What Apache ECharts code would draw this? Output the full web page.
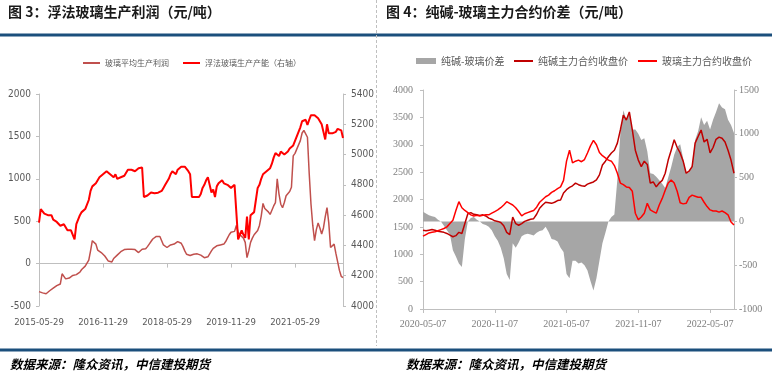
<!DOCTYPE html>
<html><head><meta charset="utf-8">
<script src="https://cdn.jsdelivr.net/npm/echarts@6/dist/echarts.min.js"></script>
<style>html,body{margin:0;padding:0;background:#fff}#c{width:772px;height:378px}</style>
</head><body><div id="c"></div>
<script>
// ---------- Fig.3 data (semi-monthly, from 2015-05-29) ----------
const profitTicks = ['2015-05-29','2016-11-29','2018-05-29','2019-11-29','2021-05-29'];
const glassProfit = [
-330,-340,-345,-350,-355,-340,-320,-310,-290,-270,
-260,-250,-240,-120,-150,-180,-190,-170,-150,-140,
-145,-130,-110,-100,-70,-50,-30,-25,40,150,
270,280,230,160,140,130,110,90,80,30,
10,20,60,80,100,120,140,160,165,160,
170,165,170,160,165,170,130,140,170,160,
175,200,230,260,290,310,320,330,320,270,
220,200,190,180,220,240,230,250,260,270,
240,200,150,110,100,95,100,110,100,115,
130,100,80,70,70,80,100,150,180,190,
210,200,220,200,230,260,300,340,370,390,
380,450,370,340,330,300,250,70,150,250,
300,340,350,390,450,560,710,650,630,610,
580,600,680,720,1000,820,700,660,720,800,
780,850,900,1270,1300,1350,1360,1450,1540,1570,
1560,1490,1060,700,450,270,400,480,420,350,
420,550,660,480,190,210,230,120,20,-80,
-150,-165];
const floatCapacity = [
4550,4640,4630,4610,4620,4600,4590,4600,4570,4580,
4555,4560,4530,4520,4540,4530,4500,4490,4500,4470,
4440,4540,4550,4600,4620,4630,4640,4650,4700,4760,
4790,4790,4810,4820,4850,4840,4870,4860,4890,4880,
4870,4860,4850,4870,4840,4830,4850,4840,4860,4880,
4900,4910,4900,4910,4890,4900,4910,4910,4915,4720,
4710,4730,4740,4750,4750,4745,4750,4748,4745,4760,
4780,4800,4810,4840,4870,4890,4880,4870,4900,4890,
4920,4925,4920,4920,4890,4870,4720,4720,4720,4720,
4720,4740,4780,4800,4830,4850,4800,4750,4770,4720,
4790,4810,4820,4830,4810,4820,4800,4790,4780,4790,
4800,4810,4440,4450,4500,4470,4450,4590,4440,4600,
4610,4620,4700,4780,4800,4840,4870,4880,4890,4900,
4910,4940,4980,5010,5020,4990,5020,5030,5000,5010,
5020,5040,5050,5060,5090,5100,5150,5180,5220,5220,
5230,5195,5230,5260,5250,5260,5250,5240,5230,5200,
5150,5100,5200,5140,5150,5140,5140,5150,5170,5180,
5160,5110];

// ---------- Fig.4 data (weekly-ish, from 2020-05-07) ----------
const spreadTicks = ['2020-05-07','2020-11-07','2021-05-07','2021-11-07','2022-05-07'];
const sodaClose = [
1440,1430,1440,1450,1440,1420,1410,1400,1380,1350,
1320,1340,1400,1380,1560,1740,1760,1730,1720,1710,
1720,1700,1660,1640,1610,1600,1580,1520,1400,1360,
1680,1560,1530,1560,1600,1620,1640,1650,1730,1840,
1900,1950,1940,1930,1950,1980,1990,2120,2180,2220,
2250,2300,2270,2250,2240,2280,2300,2320,2360,2450,
2630,2700,2780,2850,2900,3030,3270,3540,3450,3600,
3270,2900,2720,2600,2700,2640,2300,2320,2230,2300,
2350,2480,2720,2900,3090,2950,2850,2700,2480,2520,
2600,3030,3150,3270,3050,3100,2850,2950,3100,3140,
3120,3050,2900,2720,2480];
const glassClose = [
1330,1360,1390,1400,1410,1430,1450,1470,1500,1560,
1620,1800,1960,1850,1800,1760,1720,1700,1710,1700,
1710,1720,1720,1750,1780,1810,1850,1900,1960,1930,
1900,1850,1780,1700,1740,1760,1780,1800,1860,1950,
2000,2050,2080,2130,2160,2200,2230,2350,2700,2900,
2670,2700,2720,2690,2730,2850,2980,3080,3000,2860,
2800,2760,2720,2700,2620,2480,2300,2270,2230,2220,
2150,1750,1630,1680,1750,1930,1810,1780,1750,1900,
2020,2170,2300,2356,2300,2150,1940,1920,1930,2040,
2080,2060,2040,2040,1950,1870,1810,1790,1790,1770,
1790,1760,1720,1590,1534];
const sodaGlassSpread = [
110,90,70,60,50,20,0,-50,-100,-150,
-330,-400,-480,-520,-200,0,40,50,20,0,
-30,-40,-60,-100,-170,-220,-300,-420,-600,-670,
-250,-300,-240,-170,-150,-140,-150,-160,-130,-110,
-100,-60,-120,-200,-210,-230,-300,-350,-600,-650,
-450,-450,-480,-470,-500,-560,-680,-790,-650,-450,
-250,-130,0,50,80,480,1000,1270,1160,1250,
1050,1050,1000,930,950,800,550,540,510,470,
430,380,500,620,760,850,880,720,550,560,
640,930,1030,1190,1100,1150,1050,1160,1250,1350,
1300,1280,1160,1100,1010];

// ---------- categories ----------
function pad(n){return (n<10?'0':'')+n;}
const profitDates = [];
for (let i=0;i<glassProfit.length;i++){
  const m = Math.floor(i/2) + (i%2);
  const d = new Date(2015, 4+m, 1);
  profitDates.push(d.getFullYear()+'-'+pad(d.getMonth()+1)+'-'+(i%2?'14':'29'));
}
const spreadDates = [];
const days = ['07','14','21','28'];
for (let i=0;i<sodaClose.length;i++){
  const d = new Date(2020, 4+Math.floor(i/4), 1);
  spreadDates.push(d.getFullYear()+'-'+pad(d.getMonth()+1)+'-'+days[i%4]);
}

const CJK = '"Noto Sans CJK SC", sans-serif';
const NARROW = '"Liberation Sans Narrow", "DejaVu Sans Condensed", sans-serif';
const SERIF = '"Liberation Serif", serif';
const axisGray = '#BFBFBF';
const plain = v => String(v);

const chart = echarts.init(document.getElementById('c'), null, {renderer:'canvas'});
chart.setOption({
  animation:false,
  backgroundColor:'#fff',
  graphic:[
    {type:'text', style:{x:8, y:12, text:'图 3：浮法玻璃生产利润（元/吨）', font:'bold 14px "Noto Sans CJK SC"', fill:'#1a1a1a', verticalAlign:'middle'}},
    {type:'text', style:{x:386, y:12, text:'图 4：纯碱-玻璃主力合约价差（元/吨）', font:'bold 14px "Noto Sans CJK SC"', fill:'#1a1a1a', verticalAlign:'middle'}},
    {type:'rect', shape:{x:0, y:33.5, width:772, height:3}, style:{fill:'#1B4F7C'}},
    {type:'rect', shape:{x:0, y:348.5, width:772, height:3}, style:{fill:'#1B4F7C'}},
    {type:'line', shape:{x1:376.5, y1:0, x2:376.5, y2:346}, style:{stroke:'#BFBFBF', lineWidth:1, lineDash:[3,2]}},
    {type:'text', style:{x:10, y:364, text:'数据来源：隆众资讯，中信建投期货', font:'italic bold 12.5px "Noto Sans CJK SC"', fill:'#000', verticalAlign:'middle'}},
    {type:'text', style:{x:406, y:364, text:'数据来源：隆众资讯，中信建投期货', font:'italic bold 12.5px "Noto Sans CJK SC"', fill:'#000', verticalAlign:'middle'}}
  ],
  legend:[
    {left:78, top:54, itemWidth:17, itemHeight:2, itemGap:14, icon:'rect',
     data:['玻璃平均生产利润','浮法玻璃生产产能（右轴）'],
     textStyle:{fontSize:8, color:'#595959', fontFamily:CJK}},
    {left:411, top:51, itemWidth:20, itemHeight:6, icon:'rect',
     data:['纯碱-玻璃价差'],
     textStyle:{fontSize:10, color:'#595959', fontFamily:CJK}},
    {left:509, top:51, itemWidth:19, itemHeight:2, itemGap:10, icon:'rect',
     data:['纯碱主力合约收盘价', '玻璃主力合约收盘价'],
     textStyle:{fontSize:10, color:'#595959', fontFamily:CJK}}
  ],
  grid:[
    {left:39, right:429, top:94, bottom:72},
    {left:423, right:38, top:90, bottom:69}
  ],
  xAxis:[
    {gridIndex:0, type:'category', data:profitDates, boundaryGap:false, position:'bottom',
     axisLine:{onZero:true, onZeroAxisIndex:0, lineStyle:{color:axisGray}},
     axisTick:{interval:35, length:4, lineStyle:{color:axisGray}},
     axisLabel:{show:false}, splitLine:{show:false}},
    {gridIndex:0, type:'category', data:profitDates, boundaryGap:false, position:'bottom',
     axisLine:{show:false, onZero:false}, axisTick:{show:false},
     axisLabel:{interval:35, margin:12, color:'#595959', fontSize:9.5, fontFamily:NARROW}, splitLine:{show:false}},
    {gridIndex:1, type:'category', data:spreadDates, boundaryGap:false, position:'bottom',
     axisLine:{lineStyle:{color:axisGray}},
     axisTick:{interval:23, length:4, lineStyle:{color:axisGray}},
     axisLabel:{interval:23, margin:10, color:'#7F7F7F', fontSize:10, fontFamily:SERIF}, splitLine:{show:false}}
  ],
  yAxis:[
    {gridIndex:0, type:'value', min:-500, max:2000, interval:500, position:'left',
     axisLine:{show:true, lineStyle:{color:axisGray}}, axisTick:{show:true, length:3, lineStyle:{color:axisGray}},
     splitLine:{show:false}, axisLabel:{margin:8, color:'#595959', fontSize:10, fontFamily:NARROW, formatter:plain}},
    {gridIndex:0, type:'value', min:4000, max:5400, interval:200, position:'right',
     axisLine:{show:true, lineStyle:{color:axisGray}}, axisTick:{show:true, length:3, lineStyle:{color:axisGray}},
     splitLine:{show:false}, axisLabel:{margin:8, color:'#595959', fontSize:10, fontFamily:NARROW, formatter:plain}},
    {gridIndex:1, type:'value', min:0, max:4000, interval:500, position:'left',
     axisLine:{show:true, lineStyle:{color:axisGray}}, axisTick:{show:true, length:3, lineStyle:{color:axisGray}},
     splitLine:{show:false}, axisLabel:{margin:10, color:'#7F7F7F', fontSize:10, fontFamily:SERIF, formatter:plain}},
    {gridIndex:1, type:'value', min:-1000, max:1500, interval:500, position:'right',
     axisLine:{show:true, lineStyle:{color:axisGray}}, axisTick:{show:true, length:3, lineStyle:{color:axisGray}},
     splitLine:{show:false}, axisLabel:{margin:5, color:'#7F7F7F', fontSize:10, fontFamily:SERIF, formatter:plain}}
  ],
  series:[
    {name:'玻璃平均生产利润', type:'line', xAxisIndex:0, yAxisIndex:0, data:glassProfit,
     symbol:'none', color:'#C0504D', lineStyle:{width:1.5, color:'#C0504D'}},
    {name:'浮法玻璃生产产能（右轴）', type:'line', xAxisIndex:0, yAxisIndex:1, data:floatCapacity,
     symbol:'none', color:'#FF0000', lineStyle:{width:2, color:'#FF0000'}},
    {name:'纯碱-玻璃价差', type:'line', xAxisIndex:2, yAxisIndex:3, data:sodaGlassSpread,
     symbol:'none', color:'#A6A6A6', lineStyle:{width:0}, areaStyle:{color:'#A6A6A6', opacity:1}},
    {name:'纯碱主力合约收盘价', type:'line', xAxisIndex:2, yAxisIndex:2, data:sodaClose,
     symbol:'none', color:'#C00000', lineStyle:{width:1.5, color:'#C00000'}},
    {name:'玻璃主力合约收盘价', type:'line', xAxisIndex:2, yAxisIndex:2, data:glassClose,
     symbol:'none', color:'#FF0000', lineStyle:{width:1.5, color:'#FF0000'}}
  ]
});
</script></body></html>
